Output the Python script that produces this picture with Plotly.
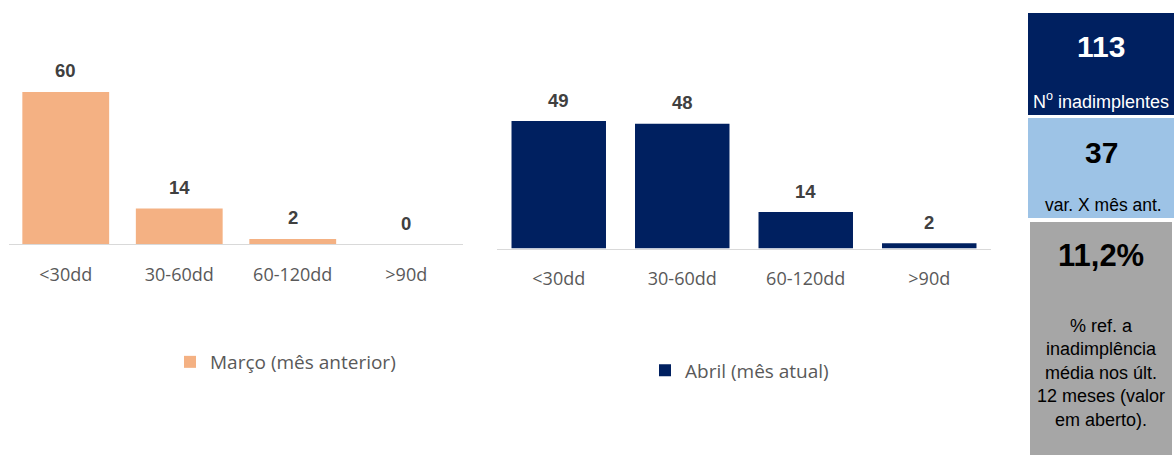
import plotly.graph_objects as go

# ---- data ----
categories = ["<30dd", "30-60dd", "60-120dd", ">90d"]
marco_values = [60, 14, 2, 0]
abril_values = [49, 48, 14, 2]
marco_name = "Março (mês anterior)"
abril_name = "Abril (mês atual)"
total_inadimplentes = sum(abril_values)               # 113
variacao_mes_anterior = sum(abril_values) - sum(marco_values)  # 37
pct_media_12m = "11,2%"
label_total = "N<sup>o</sup> inadimplentes"
label_var = "var. X mês ant."
label_pct = "% ref. a<br>inadimplência<br>média nos últ.<br>12 meses (valor<br>em aberto)."

# ---- style ----
W, H = 1175, 459
ORANGE = "#F4B183"
NAVY = "#002060"
LIGHTBLUE = "#9DC3E6"
GRAY = "#A6A6A6"
AXIS_GRAY = "#D9D9D9"
TEXT_GRAY = "#595959"
LABEL_GRAY = "#404040"

def px_x(p):
    return p / W

def px_y(p):
    return 1 - p / H

fig = go.Figure()

fig.add_trace(go.Bar(
    x=categories, y=marco_values, name=marco_name,
    marker=dict(color=ORANGE, line=dict(width=0)),
    xaxis="x", yaxis="y", legend="legend", hoverinfo="skip",
))
fig.add_trace(go.Bar(
    x=categories, y=abril_values, name=abril_name,
    marker=dict(color=NAVY, line=dict(width=0)),
    xaxis="x2", yaxis="y2", legend="legend2", hoverinfo="skip",
))

annotations = []
for xref, yref, vals in (("x", "y", marco_values), ("x2", "y2", abril_values)):
    for c, v in zip(categories, vals):
        annotations.append(dict(
            x=c, y=v, xref=xref, yref=yref, text=str(v), showarrow=False,
            xanchor="center", yanchor="middle", yshift=21,
            font=dict(family="Liberation Sans, Arial", size=18.5, color=LABEL_GRAY, weight="bold"),
        ))

tick_font = dict(family="Open Sans", size=18, color=TEXT_GRAY)
xaxis_common = dict(
    showline=True, linecolor=AXIS_GRAY, linewidth=1, showgrid=False, zeroline=False,
    ticks="", tickfont=tick_font, fixedrange=True, ticklabelstandoff=14,
)
yaxis_common = dict(visible=False, showgrid=False, zeroline=False, fixedrange=True)

legend_font = dict(family="Open Sans", size=19, color=TEXT_GRAY)

fig.update_layout(
    width=W, height=H,
    margin=dict(l=0, r=0, t=0, b=0),
    paper_bgcolor="white", plot_bgcolor="white",
    bargap=0.235,
    showlegend=True,
    xaxis=dict(domain=[px_x(9), px_x(463)], anchor="y", **xaxis_common),
    yaxis=dict(domain=[px_y(244), px_y(40)], range=[0, 80.5], anchor="x", **yaxis_common),
    xaxis2=dict(domain=[px_x(497), px_x(991)], anchor="y2", **xaxis_common),
    yaxis2=dict(domain=[px_y(248.5), px_y(40)], range=[0, 80.2], anchor="x2", **yaxis_common),
    legend=dict(x=px_x(170), y=px_y(362), xanchor="left", yanchor="middle",
                bgcolor="rgba(0,0,0,0)", borderwidth=0, font=legend_font),
    legend2=dict(x=px_x(645), y=px_y(370.5), xanchor="left", yanchor="middle",
                 bgcolor="rgba(0,0,0,0)", borderwidth=0, font=legend_font),
)

# ---- KPI boxes on the right ----
boxes = [
    (1028, 1174, 13, 115, NAVY),
    (1028, 1174, 118, 218, LIGHTBLUE),
    (1030, 1172, 222, 455, GRAY),
]
shapes = []
for x0, x1, y0, y1, col in boxes:
    shapes.append(dict(type="rect", xref="paper", yref="paper",
                       x0=px_x(x0), x1=px_x(x1), y0=px_y(y1), y1=px_y(y0),
                       fillcolor=col, line=dict(width=0), layer="below"))

cx = px_x(1101)
kpi_font = "Liberation Sans, Arial"

def kpi(y, text, size, color, bold=False, x=cx):
    return dict(x=x, y=px_y(y), xref="paper", yref="paper", text=text,
                showarrow=False, xanchor="center", yanchor="middle",
                font=dict(family=kpi_font, size=size, color=color,
                          weight="bold" if bold else "normal"))

annotations += [
    kpi(46, str(total_inadimplentes), 30, "white", True),
    kpi(100, label_total, 18, "white"),
    kpi(152, str(variacao_mes_anterior), 30, "black", True),
    kpi(205, label_var, 17.5, "black", x=px_x(1103)),
    kpi(255, pct_media_12m, 31, "black", True),
    kpi(372.5, label_pct, 18, "black"),
]

fig.update_layout(shapes=shapes, annotations=annotations)

fig.write_html("out.html", config={"displayModeBar": False},
               post_script="document.body.style.margin='0px';")
